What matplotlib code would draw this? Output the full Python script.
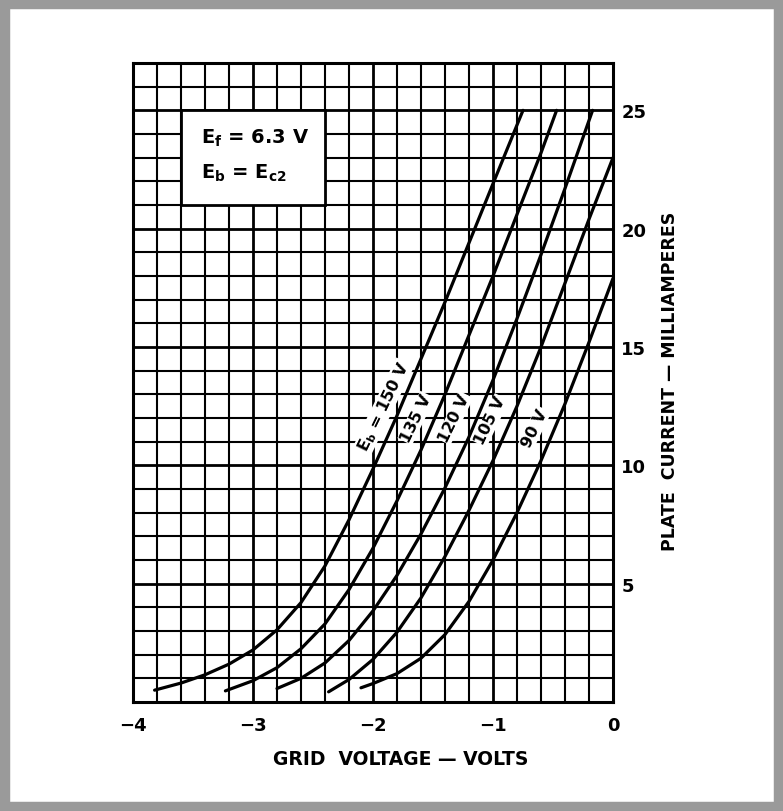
import numpy as np
import matplotlib.pyplot as plt
from matplotlib.patches import Rectangle

# plate current (mA) vs grid voltage (V)
ec_150 = [-3.82, -3.6, -3.4, -3.2, -3.0, -2.8, -2.6, -2.4, -2.2, -2.0, -1.8, -1.6, -1.4, -1.2, -1.0, -0.75]
ib_150 = [0.5, 0.8, 1.15, 1.6, 2.2, 3.05, 4.2, 5.75, 7.7, 9.85, 12.1, 14.5, 16.9, 19.4, 21.9, 25.0]

ec_135 = [-3.23, -3.0, -2.8, -2.6, -2.4, -2.2, -2.0, -1.8, -1.6, -1.4, -1.2, -1.0, -0.8, -0.6, -0.47]
ib_135 = [0.47, 0.9, 1.45, 2.25, 3.3, 4.75, 6.5, 8.5, 10.65, 13.0, 15.5, 18.0, 20.6, 23.2, 25.0]

ec_120 = [-2.8, -2.6, -2.4, -2.2, -2.0, -1.8, -1.6, -1.4, -1.2, -1.0, -0.8, -0.6, -0.4, -0.17]
ib_120 = [0.57, 1.0, 1.65, 2.6, 3.85, 5.35, 7.1, 9.05, 11.2, 13.6, 16.2, 18.9, 21.7, 25.0]

ec_105 = [-2.37, -2.2, -2.0, -1.8, -1.6, -1.4, -1.2, -1.0, -0.8, -0.6, -0.4, -0.2, 0.0]
ib_105 = [0.43, 0.95, 1.8, 2.95, 4.4, 6.15, 8.1, 10.2, 12.5, 15.0, 17.7, 20.4, 23.0]

ec_90 = [-2.1, -2.0, -1.8, -1.6, -1.4, -1.2, -1.0, -0.8, -0.6, -0.4, -0.2, 0.0]
ib_90 = [0.6, 0.78, 1.2, 1.85, 2.85, 4.25, 6.0, 8.0, 10.2, 12.6, 15.2, 17.9]

curve_labels = ['E$_\\mathrm{b}$ = 150 V', '135 V', '120 V', '105 V', '90 V']
label_x = [-1.91, -1.64, -1.32, -1.02, -0.65]
label_y = [12.5, 12.0, 12.0, 11.9, 11.6]

x_ticks = [-4, -3, -2, -1, 0]
x_ticklabels = ['\u22124', '\u22123', '\u22122', '\u22121', '0']
y_ticks = [5, 10, 15, 20, 25]

plt.rcParams['font.family'] = 'DejaVu Sans'
plt.rcParams['font.weight'] = 'bold'
plt.rcParams['mathtext.fontset'] = 'custom'
plt.rcParams['mathtext.rm'] = 'DejaVu Sans:bold'
plt.rcParams['mathtext.it'] = 'DejaVu Sans:bold'
plt.rcParams['mathtext.bf'] = 'DejaVu Sans:bold'
plt.rcParams['mathtext.default'] = 'rm'

W, H = 783, 812
fig = plt.figure(figsize=(W / 100, H / 100), dpi=100)
ax = fig.add_axes([133 / W, 1 - 703 / H, 480 / W, (703 - 64) / H])

ax.set_xlim(-4, 0)
ax.set_ylim(0, 27)

# square grid: 0.2 V x 1 mA, slightly heavier every 1 V / 5 mA
ax.set_xticks(np.arange(-4, 0.01, 0.2), minor=True)
ax.set_yticks(np.arange(0, 27.01, 1), minor=True)
ax.set_xticks(x_ticks)
ax.set_xticklabels(x_ticklabels)
ax.set_yticks([0] + y_ticks)
ax.set_yticklabels([''] + [str(v) for v in y_ticks])
ax.grid(which='minor', color='black', lw=1.5, zorder=1)
ax.grid(which='major', color='black', lw=2.0, zorder=1)
ax.set_axisbelow(True)
ax.tick_params(which='both', length=0)
ax.tick_params(axis='x', pad=10, labelsize=13)
ax.tick_params(axis='y', pad=6, labelsize=13)
ax.yaxis.tick_right()
for sp in ax.spines.values():
    sp.set_linewidth(2.2)

# curves
for ec, ib in [(ec_150, ib_150), (ec_135, ib_135), (ec_120, ib_120),
               (ec_105, ib_105), (ec_90, ib_90)]:
    ax.plot(ec, ib, color='black', lw=2.3, solid_capstyle='round',
            solid_joinstyle='round', zorder=4)

for txt, lx, ly in zip(curve_labels, label_x, label_y):
    ax.text(lx, ly, txt, rotation=64, rotation_mode='anchor', ha='center', va='center',
            fontsize=11.5, zorder=5,
            bbox=dict(facecolor='white', edgecolor='none', pad=0.5))

# conditions box
ax.add_patch(Rectangle((-3.6, 21), 1.2, 4, facecolor='white', edgecolor='black',
                       lw=2.0, zorder=3))
ax.text(-3.43, 23.85, 'E$_\\mathrm{f}$ = 6.3 V', fontsize=14, va='center', zorder=5)
ax.text(-3.43, 22.4, 'E$_\\mathrm{b}$ = E$_\\mathrm{c2}$', fontsize=14, va='center', zorder=5)

# axis titles
fig.text(401 / W, 1 - 760 / H, 'GRID  VOLTAGE \u2014 VOLTS', fontsize=13.5,
         ha='center', va='center')
fig.text(670 / W, 1 - 381 / H, 'PLATE  CURRENT \u2014 MILLIAMPERES', fontsize=12.5,
         rotation=90, ha='center', va='center')

# scanned page border
fig.patches.append(Rectangle((0, 0), 1, 1, transform=fig.transFigure, fill=False,
                             edgecolor='#9a9a9a', lw=14))

plt.savefig('out.png', dpi=100)
